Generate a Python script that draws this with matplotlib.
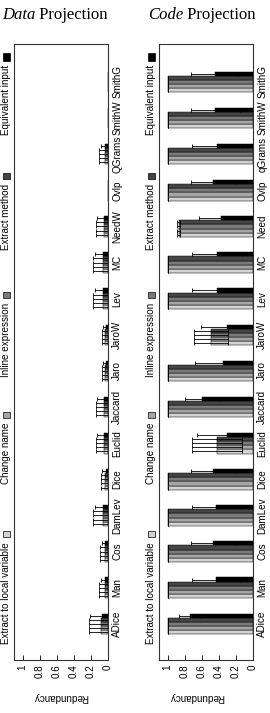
import numpy as np
import matplotlib
matplotlib.use("Agg")
import matplotlib.pyplot as plt
from matplotlib.patches import Rectangle

# ---------------- data ----------------
series = ["Extract to local variable", "Change name", "Inline expression",
          "Extract method", "Equivalent input"]
colors = ["#d2d2d2", "#a6a6a6", "#7a7a7a", "#454545", "#000000"]

data_cats = ["ADice", "Man", "Cos", "DamLev", "Dice", "Euclid", "Jaccard", "Jaro",
             "JaroW", "Lev", "MC", "NeedW", "Ovlp", "QGrams", "SmithW", "SmithG"]
code_cats = ["ADice", "Man", "Cos", "DamLev", "Dice", "Euclid", "Jaccard", "Jaro",
             "JaroW", "Lev", "MC", "Need", "Ovlp", "qGrams", "SmithW", "SmithG"]

# Data projection
data_mean = [0.08, 0.04, 0.04, 0.06, 0.03, 0.05, 0.05, 0.03,
             0.03, 0.06, 0.06, 0.05, 0.0, 0.04, 0.0, 0.0]
data_err = [0.14, 0.06, 0.05, 0.11, 0.05, 0.09, 0.09, 0.04,
            0.04, 0.11, 0.11, 0.09, 0.0, 0.06, 0.0, 0.0]
data_equiv_mean = [0.075, 0.035, 0.035, 0.055, 0.025, 0.045, 0.045, 0.025,
                   0.025, 0.055, 0.055, 0.045, 0.0, 0.035, 0.0, 0.0]
data_equiv_err = [0.13, 0.05, 0.04, 0.10, 0.04, 0.08, 0.08, 0.03,
                  0.03, 0.10, 0.10, 0.08, 0.0, 0.05, 0.0, 0.0]

# Code projection
code_other_mean = [1.0, 1.0, 1.0, 1.0, 1.0, 0.42, 1.0, 1.0,
                   0.49, 1.0, 1.0, 0.87, 1.0, 1.0, 1.0, 1.0]
code_other_err = [0.0, 0.0, 0.0, 0.0, 0.0, 0.29, 0.0, 0.0,
                  0.20, 0.0, 0.0, 0.015, 0.0, 0.0, 0.0, 0.0]
code_equiv_mean = [0.74, 0.43, 0.47, 0.43, 0.47, 0.30, 0.60, 0.35,
                   0.31, 0.42, 0.42, 0.37, 0.47, 0.42, 0.44, 0.45]
code_equiv_err = [0.125, 0.28, 0.26, 0.28, 0.26, 0.35, 0.20, 0.33,
                  0.30, 0.29, 0.29, 0.26, 0.26, 0.29, 0.29, 0.28]

xticks = [0, 0.2, 0.4, 0.6, 0.8, 1]
xtick_labels = ["0", "0.2", "0.4", "0.6", "0.8", "1"]

# ---------------- figure ----------------
W, H = 270, 713
fig = plt.figure(figsize=(W / 100, H / 100), dpi=100)
SANS = "Liberation Sans"
SERIF = "Liberation Serif"
FS = 7.1
TFS = 12


def fx(x):
    return x / W


def fy(y):
    return 1 - y / H


def panel(left_px, cats, means, errs, title_word, title_x, label_x):
    ax = fig.add_axes([fx(left_px), fy(660), 94 / W, 616 / H])
    y = np.arange(len(cats))
    bw = 0.114
    for i, c in enumerate(colors):
        ax.barh(y + (i - 2) * bw, means[i], height=bw, xerr=errs[i],
                color=c, edgecolor="black", linewidth=0.35,
                error_kw=dict(ecolor="black", elinewidth=0.6, capsize=1.3,
                              capthick=0.6))
    ax.set_xlim(1.1, 0)
    ax.set_ylim(-1.0, 16.05)
    ax.set_xticks(xticks)
    ax.set_xticklabels(xtick_labels, rotation=90, fontsize=FS, family=SANS)
    ax.tick_params(axis="x", direction="in", length=3.5, width=0.6, pad=3)
    ax.set_yticks(y)
    ax.set_yticklabels(cats, rotation=90, fontsize=FS, family=SANS, va="center")
    ax.yaxis.tick_right()
    ax.tick_params(axis="y", length=0, pad=3)
    for s in ax.spines.values():
        s.set_linewidth(0.8)
        s.set_color("#333333")

    fig.text(fx(label_x), fy(697), "Redundancy", rotation=180, ha="center",
             va="center", fontsize=FS, family=SANS)

    patch_y = [534, 414.5, 295, 175.5, 57]
    lx = left_px - 7.5
    for name, c, py in zip(series, colors, patch_y):
        ph = 6 if c != "#000000" else 8
        fig.patches.append(Rectangle((fx(lx - 3.2), fy(py + ph / 2)), 6.4 / W, ph / H,
                                     transform=fig.transFigure, facecolor=c,
                                     edgecolor="black", linewidth=0.5))
        fig.text(fx(lx), fy(py + 8), name, rotation=90, ha="center", va="top",
                 fontsize=FS, family=SANS)

    t1 = fig.text(fx(title_x), fy(15), title_word, style="italic", family=SERIF,
                  fontsize=TFS, ha="left", va="center")
    ax.annotate(" Projection", xy=(1, 0.5), xycoords=t1, ha="left", va="center",
                family=SERIF, fontsize=TFS, annotation_clip=False)
    return ax


data_means = [data_mean] * 4 + [data_equiv_mean]
data_errs = [data_err] * 4 + [data_equiv_err]
code_means = [code_other_mean] * 4 + [code_equiv_mean]
code_errs = [code_other_err] * 4 + [code_equiv_err]

panel(14, data_cats, data_means, data_errs, "Data", 2, 61)
panel(159, code_cats, code_means, code_errs, "Code", 148, 197)

fig.savefig("out.png", dpi=100)
